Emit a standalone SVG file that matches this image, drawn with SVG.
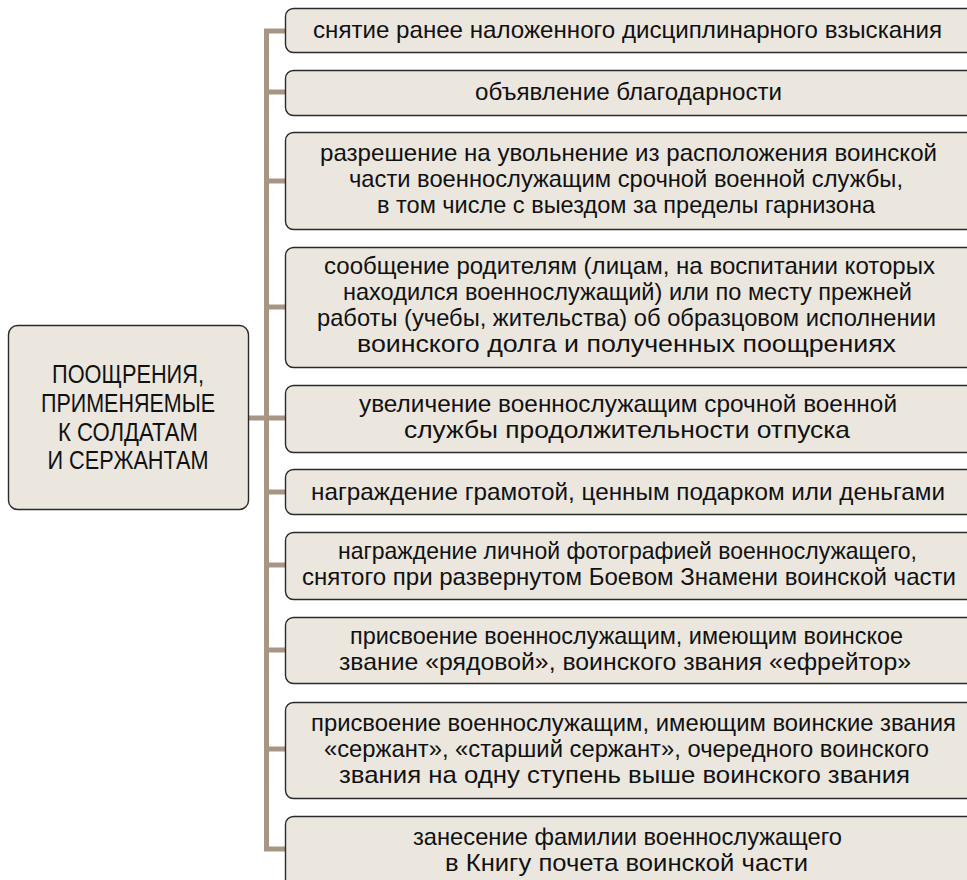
<svg xmlns="http://www.w3.org/2000/svg" width="967" height="880" viewBox="0 0 967 880">
<style>
.box{fill:#ebe7de;stroke:#2a2a2a;stroke-width:1.4}
.t{font-family:"Liberation Sans","Noto Sans",sans-serif;font-size:24px;fill:#111;text-anchor:middle}
.tl{font-family:"Liberation Sans","Noto Sans",sans-serif;font-size:25px;fill:#111;text-anchor:middle}
.c{fill:none;stroke:#a89684;stroke-width:5;stroke-linejoin:miter}
</style>
<rect width="967" height="880" fill="#ffffff"/>
<g id="connectors">
<path class="c" d="M286,31 H266.5 V849 H286"/>
<path class="c" d="M266.5,92 H286 M266.5,181 H286 M266.5,307 H286 M266.5,418 H286 M266.5,492 H286 M266.5,565 H286 M266.5,650 H286 M266.5,749 H286 M248,418 H266.5"/>
</g>
<g id="root">
<rect class="box" x="8.5" y="325.5" width="240" height="184" rx="9"/>
<text class="tl" x="128" y="383" textLength="152" lengthAdjust="spacingAndGlyphs">ПООЩРЕНИЯ,</text>
<text class="tl" x="128" y="412" textLength="174" lengthAdjust="spacingAndGlyphs">ПРИМЕНЯЕМЫЕ</text>
<text class="tl" x="128" y="440.5" textLength="140" lengthAdjust="spacingAndGlyphs">К СОЛДАТАМ</text>
<text class="tl" x="128" y="469" textLength="161" lengthAdjust="spacingAndGlyphs">И СЕРЖАНТАМ</text>
</g>
<g id="n1">
<rect class="box" x="285.5" y="8.5" width="690" height="44" rx="8"/>
<text class="t" x="627.5" y="38" textLength="629" lengthAdjust="spacingAndGlyphs">снятие ранее наложенного дисциплинарного взыскания</text>
</g>
<g id="n2">
<rect class="box" x="285.5" y="70.5" width="690" height="45" rx="8"/>
<text class="t" x="628.5" y="100" textLength="307" lengthAdjust="spacingAndGlyphs">объявление благодарности</text>
</g>
<g id="n3">
<rect class="box" x="285.5" y="132.5" width="690" height="97" rx="8"/>
<text class="t" x="628.5" y="161" textLength="617" lengthAdjust="spacingAndGlyphs">разрешение на увольнение из расположения воинской</text>
<text class="t" x="626" y="187" textLength="554" lengthAdjust="spacingAndGlyphs">части военнослужащим срочной военной службы,</text>
<text class="t" x="626" y="213" textLength="498" lengthAdjust="spacingAndGlyphs">в том числе с выездом за пределы гарнизона</text>
</g>
<g id="n4">
<rect class="box" x="285.5" y="247.5" width="690" height="120" rx="8"/>
<text class="t" x="629.5" y="273.5" textLength="611" lengthAdjust="spacingAndGlyphs">сообщение родителям (лицам, на воспитании которых</text>
<text class="t" x="627.5" y="300" textLength="569" lengthAdjust="spacingAndGlyphs">находился военнослужащий) или по месту прежней</text>
<text class="t" x="626.5" y="326" textLength="619" lengthAdjust="spacingAndGlyphs">работы (учебы, жительства) об образцовом исполнении</text>
<text class="t" x="626.5" y="352" textLength="539" lengthAdjust="spacingAndGlyphs">воинского долга и полученных поощрениях</text>
</g>
<g id="n5">
<rect class="box" x="285.5" y="385.5" width="690" height="67" rx="8"/>
<text class="t" x="628" y="412" textLength="538" lengthAdjust="spacingAndGlyphs">увеличение военнослужащим срочной военной</text>
<text class="t" x="627" y="438" textLength="446" lengthAdjust="spacingAndGlyphs">службы продолжительности отпуска</text>
</g>
<g id="n6">
<rect class="box" x="285.5" y="469.5" width="690" height="45" rx="8"/>
<text class="t" x="628" y="500" textLength="634" lengthAdjust="spacingAndGlyphs">награждение грамотой, ценным подарком или деньгами</text>
</g>
<g id="n7">
<rect class="box" x="285.5" y="532.5" width="690" height="67" rx="8"/>
<text class="t" x="627.5" y="559" textLength="579" lengthAdjust="spacingAndGlyphs">награждение личной фотографией военнослужащего,</text>
<text class="t" x="629" y="585" textLength="654" lengthAdjust="spacingAndGlyphs">снятого при развернутом Боевом Знамени воинской части</text>
</g>
<g id="n8">
<rect class="box" x="285.5" y="617.5" width="690" height="66" rx="8"/>
<text class="t" x="626.5" y="643.5" textLength="553" lengthAdjust="spacingAndGlyphs">присвоение военнослужащим, имеющим воинское</text>
<text class="t" x="625" y="669.5" textLength="572" lengthAdjust="spacingAndGlyphs">звание «рядовой», воинского звания «ефрейтор»</text>
</g>
<g id="n9">
<rect class="box" x="285.5" y="702.5" width="690" height="96" rx="8"/>
<text class="t" x="633.5" y="731" textLength="645" lengthAdjust="spacingAndGlyphs">присвоение военнослужащим, имеющим воинские звания</text>
<text class="t" x="626.5" y="757" textLength="605" lengthAdjust="spacingAndGlyphs">«сержант», «старший сержант», очередного воинского</text>
<text class="t" x="624.5" y="783" textLength="571" lengthAdjust="spacingAndGlyphs">звания на одну ступень выше воинского звания</text>
</g>
<g id="n10">
<rect class="box" x="285.5" y="816.5" width="690" height="90" rx="8"/>
<text class="t" x="627.5" y="845" textLength="429" lengthAdjust="spacingAndGlyphs">занесение фамилии военнослужащего</text>
<text class="t" x="626.5" y="871" textLength="363" lengthAdjust="spacingAndGlyphs">в Книгу почета воинской части</text>
</g>
</svg>
